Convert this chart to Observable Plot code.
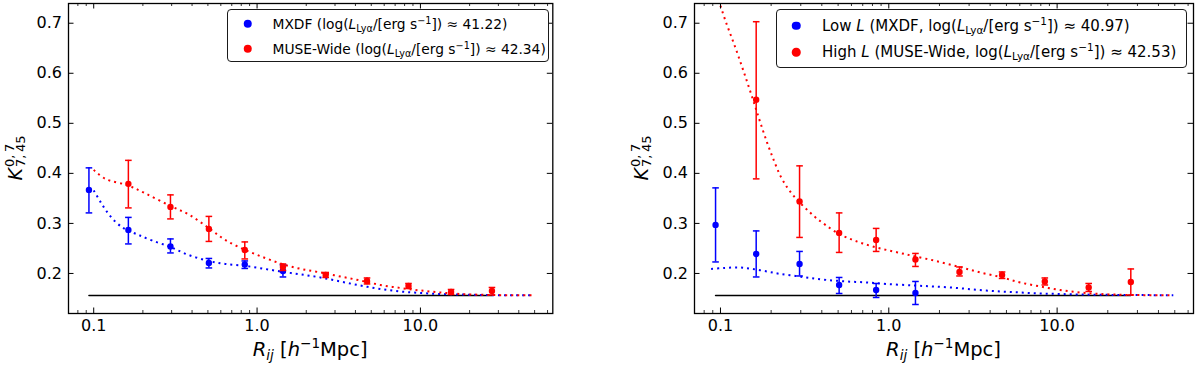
<!DOCTYPE html>
<html>
<head>
<meta charset="utf-8">
<script src="https://cdn.jsdelivr.net/npm/d3@7"></script>
<script src="https://cdn.jsdelivr.net/npm/@observablehq/plot@0.6"></script>
<style>
  html, body { margin: 0; padding: 0; background: #fff; }
  #root { display: flex; width: 1200px; height: 368px; font-family: "DejaVu Sans", sans-serif; }
  .panel { position: relative; width: 600px; height: 368px; }
  .panel svg { display: block; position: absolute; left: 0; top: 0; }
  .legend { position: absolute; box-sizing: border-box; border: 1.2px solid #1a1a1a; border-radius: 4px; background: #fff; color: #000; }
  .legend .mk { position: absolute; width: 8.5px; height: 8.5px; border-radius: 50%; transform: translate(-50%, -50%); }
  .legend .tx { position: absolute; height: 20px; line-height: 20px; white-space: nowrap; transform: translateY(-50%); }
  .legend sub, .legend sup { font-size: 70%; line-height: 0; }
  .legend sub { vertical-align: -0.3em; }
  .legend sup { vertical-align: 0.55em; }
</style>
</head>
<body>
<div id="root"></div>
<script>
// ---------------- data ----------------
const R_BINS = [0.0935, 0.163, 0.295, 0.507, 0.841, 1.44, 2.63, 4.71, 8.45, 15.4, 27.4];
const BASELINE_K = 0.156;

// Left panel
const L_MXDF_K  = [0.367, 0.287, 0.254, 0.221, 0.218, 0.205];
const L_MXDF_LO = [0.321, 0.259, 0.241, 0.211, 0.210, 0.193];
const L_MXDF_HI = [0.411, 0.312, 0.269, 0.230, 0.225, 0.217];
const L_MW_K  = [0.379, 0.333, 0.289, 0.247, 0.213, 0.197, 0.185, 0.175, 0.163, 0.165];
const L_MW_LO = [0.331, 0.309, 0.264, 0.229, 0.206, 0.192, 0.179, 0.170, 0.158, 0.157];
const L_MW_HI = [0.426, 0.357, 0.314, 0.263, 0.219, 0.202, 0.191, 0.180, 0.168, 0.172];

const L_MXDF_MODEL_R = [0.1, 0.11, 0.12, 0.135, 0.15, 0.162, 0.188, 0.227, 0.294, 0.381, 0.505, 0.638, 0.847, 1.12, 1.45, 1.86, 2.44, 3.23, 4.28, 5.68, 7.53, 10, 13.2, 17.6, 23.3, 30.9, 48];
const L_MXDF_MODEL_K = [0.366, 0.343, 0.324, 0.304, 0.292, 0.286, 0.277, 0.266, 0.253, 0.237, 0.225, 0.219, 0.215, 0.209, 0.203, 0.198, 0.192, 0.184, 0.176, 0.169, 0.164, 0.161, 0.159, 0.158, 0.157, 0.1565, 0.1565];
const L_MW_MODEL_R = [0.1, 0.118, 0.162, 0.207, 0.294, 0.381, 0.505, 0.638, 0.847, 1.12, 1.45, 1.86, 2.44, 3.23, 4.28, 5.68, 7.53, 10, 13.2, 17.6, 23.3, 30.9, 48];
const L_MW_MODEL_K = [0.407, 0.389, 0.376, 0.360, 0.335, 0.318, 0.291, 0.267, 0.247, 0.231, 0.218, 0.209, 0.202, 0.194, 0.186, 0.177, 0.171, 0.166, 0.162, 0.159, 0.1575, 0.1567, 0.1565];

// Right panel
const R_LOW_K  = [0.297, 0.239, 0.219, 0.177, 0.167, 0.161];
const R_LOW_LO = [0.223, 0.193, 0.195, 0.160, 0.152, 0.138];
const R_LOW_HI = [0.371, 0.285, 0.244, 0.192, 0.180, 0.184];
const R_HIGH_K  = [0.547, 0.344, 0.281, 0.267, 0.228, 0.203, 0.197, 0.184, 0.172, 0.183];
const R_HIGH_LO = [0.389, 0.272, 0.242, 0.244, 0.214, 0.195, 0.190, 0.177, 0.164, 0.157];
const R_HIGH_HI = [0.703, 0.415, 0.321, 0.290, 0.240, 0.213, 0.203, 0.191, 0.180, 0.209];

const R_LOW_MODEL_R = [0.088, 0.1046, 0.1286, 0.154, 0.189, 0.227, 0.279, 0.342, 0.43, 0.565, 0.743, 0.975, 1.40, 1.84, 2.54, 3.41, 4.59, 6.03, 7.93, 10.4, 13.7, 18, 25, 49];
const R_LOW_MODEL_K = [0.209, 0.211, 0.212, 0.209, 0.204, 0.199, 0.195, 0.191, 0.187, 0.184, 0.182, 0.179, 0.176, 0.174, 0.171, 0.167, 0.164, 0.162, 0.160, 0.159, 0.158, 0.1574, 0.157, 0.1565];
const R_HIGH_MODEL_R = [0.1, 0.107, 0.1146, 0.1227, 0.1315, 0.1407, 0.1506, 0.1614, 0.1727, 0.189, 0.207, 0.227, 0.249, 0.272, 0.295, 0.33, 0.37, 0.42, 0.5, 0.6, 0.7, 0.84, 1.0, 1.2, 1.44, 1.9, 2.63, 3.49, 4.71, 6.03, 7.93, 10.4, 13.7, 18, 23.6, 31.1, 49];
const R_HIGH_MODEL_K = [0.735, 0.705, 0.678, 0.651, 0.622, 0.593, 0.563, 0.532, 0.501, 0.462, 0.427, 0.395, 0.372, 0.355, 0.342, 0.326, 0.311, 0.297, 0.280, 0.268, 0.260, 0.252, 0.246, 0.240, 0.234, 0.225, 0.213, 0.202, 0.192, 0.182, 0.174, 0.167, 0.162, 0.159, 0.1575, 0.1567, 0.1565];

// axes
const X_DOMAIN = [0.0701, 64.6];
const Y_DOMAIN = [0.12, 0.7394];
const X_MAJOR = [0.1, 1, 10];
const X_MAJOR_LABELS = ["0.1", "1.0", "10.0"];
const X_MINOR = [0.08, 0.09, 0.2, 0.3, 0.4, 0.5, 0.6, 0.7, 0.8, 0.9, 2, 3, 4, 5, 6, 7, 8, 9, 20, 30, 40, 50, 60];
const Y_TICKS = [0.2, 0.3, 0.4, 0.5, 0.6, 0.7];
const Y_TICK_LABELS = ["0.2", "0.3", "0.4", "0.5", "0.6", "0.7"];

const BLUE = "#0000ff", RED = "#ff0000";

const LEFT_LEGEND = [
  {color: BLUE, label: 'MXDF (log(<i>L</i><sub>Lyα</sub>/[erg s<sup>−1</sup>]) ≈ 41.22)'},
  {color: RED,  label: 'MUSE-Wide (log(<i>L</i><sub>Lyα</sub>/[erg s<sup>−1</sup>]) ≈ 42.34)'}
];
const RIGHT_LEGEND = [
  {color: BLUE, label: 'Low <i>L</i> (MXDF, log(<i>L</i><sub>Lyα</sub>/[erg s<sup>−1</sup>]) ≈ 40.97)'},
  {color: RED,  label: 'High <i>L</i> (MUSE-Wide, log(<i>L</i><sub>Lyα</sub>/[erg s<sup>−1</sup>]) ≈ 42.53)'}
];

// ---------------- helpers ----------------
const zipPts = (R, K, LO, HI) => K.map((k, i) => ({R: R[i], K: k, lo: LO[i], hi: HI[i]}));
const zipLine = (R, K) => R.map((r, i) => ({R: r, K: K[i]}));
const capSymbol = {draw(ctx, size) { const w = Math.sqrt(size / Math.PI); ctx.moveTo(-w, 0); ctx.lineTo(w, 0); }};

function errMarks(d, color) {
  return [
    Plot.ruleX(d, {x: "R", y1: "lo", y2: "hi", stroke: color, strokeWidth: 1.5}),
    Plot.dot(d, {x: "R", y: "lo", symbol: capSymbol, r: 3.3, stroke: color, strokeWidth: 1.5, fill: "none"}),
    Plot.dot(d, {x: "R", y: "hi", symbol: capSymbol, r: 3.3, stroke: color, strokeWidth: 1.5, fill: "none"}),
    Plot.dot(d, {x: "R", y: "K", r: 3.2, fill: color, stroke: "none"})
  ];
}

function makePanel(cfg) {
  const W = 600, H = 368, MT = 3, MB = 55;
  const fh = H - MT - MB;
  const fw = W - cfg.ml - cfg.mr;
  const baseline = [{R: R_BINS[0], K: BASELINE_K}, {R: R_BINS[R_BINS.length - 1], K: BASELINE_K}];
  const dotted = {strokeWidth: 2, strokeDasharray: "2,4", strokeLinecap: "butt", curve: "catmull-rom", clip: true};
  const svg = Plot.plot({
    width: W, height: H,
    marginLeft: cfg.ml, marginRight: cfg.mr, marginTop: MT, marginBottom: MB,
    style: {fontFamily: '"DejaVu Sans", sans-serif', fontSize: "16px", color: "#000", background: "transparent", overflow: "visible"},
    x: {type: "log", domain: X_DOMAIN},
    y: {domain: Y_DOMAIN},
    marks: [
      Plot.line(baseline, {x: "R", y: "K", stroke: "#000", strokeWidth: 1.5}),
      Plot.line(cfg.blueModel, {x: "R", y: "K", stroke: BLUE, ...dotted}),
      Plot.line(cfg.redModel, {x: "R", y: "K", stroke: RED, ...dotted}),
      ...errMarks(cfg.blue, BLUE),
      ...errMarks(cfg.red, RED),
      Plot.tickX(X_MAJOR, {x: d => d, stroke: "#000", strokeWidth: 1, insetTop: fh - 5.5}),
      Plot.tickX(X_MAJOR, {x: d => d, stroke: "#000", strokeWidth: 1, insetBottom: fh - 5.5}),
      Plot.tickX(X_MINOR, {x: d => d, stroke: "#000", strokeWidth: 0.8, insetTop: fh - 3}),
      Plot.tickX(X_MINOR, {x: d => d, stroke: "#000", strokeWidth: 0.8, insetBottom: fh - 3}),
      Plot.tickY(Y_TICKS, {y: d => d, stroke: "#000", strokeWidth: 1, insetRight: fw - 5.5}),
      Plot.tickY(Y_TICKS, {y: d => d, stroke: "#000", strokeWidth: 1, insetLeft: fw - 5.5}),
      Plot.axisX(X_MAJOR, {tickSize: 0, tickPadding: 6.5, label: null, fontSize: 16, tickFormat: d => X_MAJOR_LABELS[X_MAJOR.indexOf(d)]}),
      Plot.axisY(Y_TICKS, {tickSize: 0, tickPadding: 6.5, label: null, fontSize: 16, tickFormat: d => Y_TICK_LABELS[Y_TICKS.indexOf(d)]}),
      Plot.frame({stroke: "#000", strokeWidth: 1.3})
    ]
  });

  const div = document.createElement("div");
  div.className = "panel";
  div.appendChild(svg);
  document.getElementById("root").appendChild(div);

  // axis labels with sub/superscripts
  const s = d3.select(svg);
  const fx = cfg.ml + fw / 2;
  const xl = s.append("text").attr("x", fx).attr("y", 355.5).attr("text-anchor", "middle")
    .attr("font-size", 19.5).attr("fill", "#000");
  xl.append("tspan").attr("font-style", "italic").text("R");
  xl.append("tspan").attr("font-style", "italic").attr("font-size", 13.6).attr("dy", 4.5).text("ij");
  xl.append("tspan").attr("dy", -4.5).text(" [");
  xl.append("tspan").attr("font-style", "italic").text("h");
  xl.append("tspan").attr("font-size", 13.6).attr("dy", -8).text("−1");
  xl.append("tspan").attr("dy", 8).text("Mpc]");

  const g = s.append("g").attr("transform", `translate(${cfg.ylx},${MT + fh / 2}) rotate(-90)`)
    .attr("fill", "#000").attr("text-anchor", "start");
  const k = g.append("text").attr("font-size", 19).attr("font-style", "italic").attr("text-anchor", "start").text("K");
  const sup = g.append("text").attr("font-size", 13).attr("text-anchor", "start").text("0,\u20097");
  const sub = g.append("text").attr("font-size", 13).attr("text-anchor", "start").text("7,\u200945");
  const wK = k.node().getComputedTextLength();
  const wS = Math.max(sup.node().getComputedTextLength(), sub.node().getComputedTextLength());
  const x0 = -(wK + 1 + wS) / 2;
  k.attr("x", x0).attr("y", 0);
  sup.attr("x", x0 + wK + 1).attr("y", -7.5);
  sub.attr("x", x0 + wK + 1).attr("y", 3.5);

  // legend
  const lg = document.createElement("div");
  lg.className = "legend";
  Object.assign(lg.style, {left: cfg.lg.left + "px", top: cfg.lg.top + "px", width: cfg.lg.width + "px", height: cfg.lg.height + "px", fontSize: cfg.lg.fs + "px"});
  cfg.legend.forEach((item, i) => {
    const mk = document.createElement("div");
    mk.className = "mk";
    Object.assign(mk.style, {left: cfg.lg.mx + "px", top: cfg.lg.rows[i] + "px", background: item.color});
    const tx = document.createElement("div");
    tx.className = "tx";
    Object.assign(tx.style, {left: cfg.lg.tx + "px", top: cfg.lg.rows[i] + "px"});
    tx.innerHTML = item.label;
    lg.appendChild(mk);
    lg.appendChild(tx);
  });
  div.appendChild(lg);
}

makePanel({
  ml: 68, mr: 47.7, ylx: 21.5,
  blue: zipPts(R_BINS, L_MXDF_K, L_MXDF_LO, L_MXDF_HI),
  red: zipPts(R_BINS.slice(1), L_MW_K, L_MW_LO, L_MW_HI),
  blueModel: zipLine(L_MXDF_MODEL_R, L_MXDF_MODEL_K),
  redModel: zipLine(L_MW_MODEL_R, L_MW_MODEL_K),
  legend: LEFT_LEGEND,
  lg: {left: 227, top: 9, width: 322, height: 53, mx: 19.5, tx: 44.5, rows: [13.5, 38.5], fs: 13.8}
});
makePanel({
  ml: 94, mr: 7, ylx: 47.5,
  blue: zipPts(R_BINS, R_LOW_K, R_LOW_LO, R_LOW_HI),
  red: zipPts(R_BINS.slice(1), R_HIGH_K, R_HIGH_LO, R_HIGH_HI),
  blueModel: zipLine(R_LOW_MODEL_R, R_LOW_MODEL_K),
  redModel: zipLine(R_HIGH_MODEL_R, R_HIGH_MODEL_K),
  legend: RIGHT_LEGEND,
  lg: {left: 176, top: 9, width: 411, height: 59, mx: 19, tx: 45, rows: [15.5, 42], fs: 15}
});
</script>
</body>
</html>
